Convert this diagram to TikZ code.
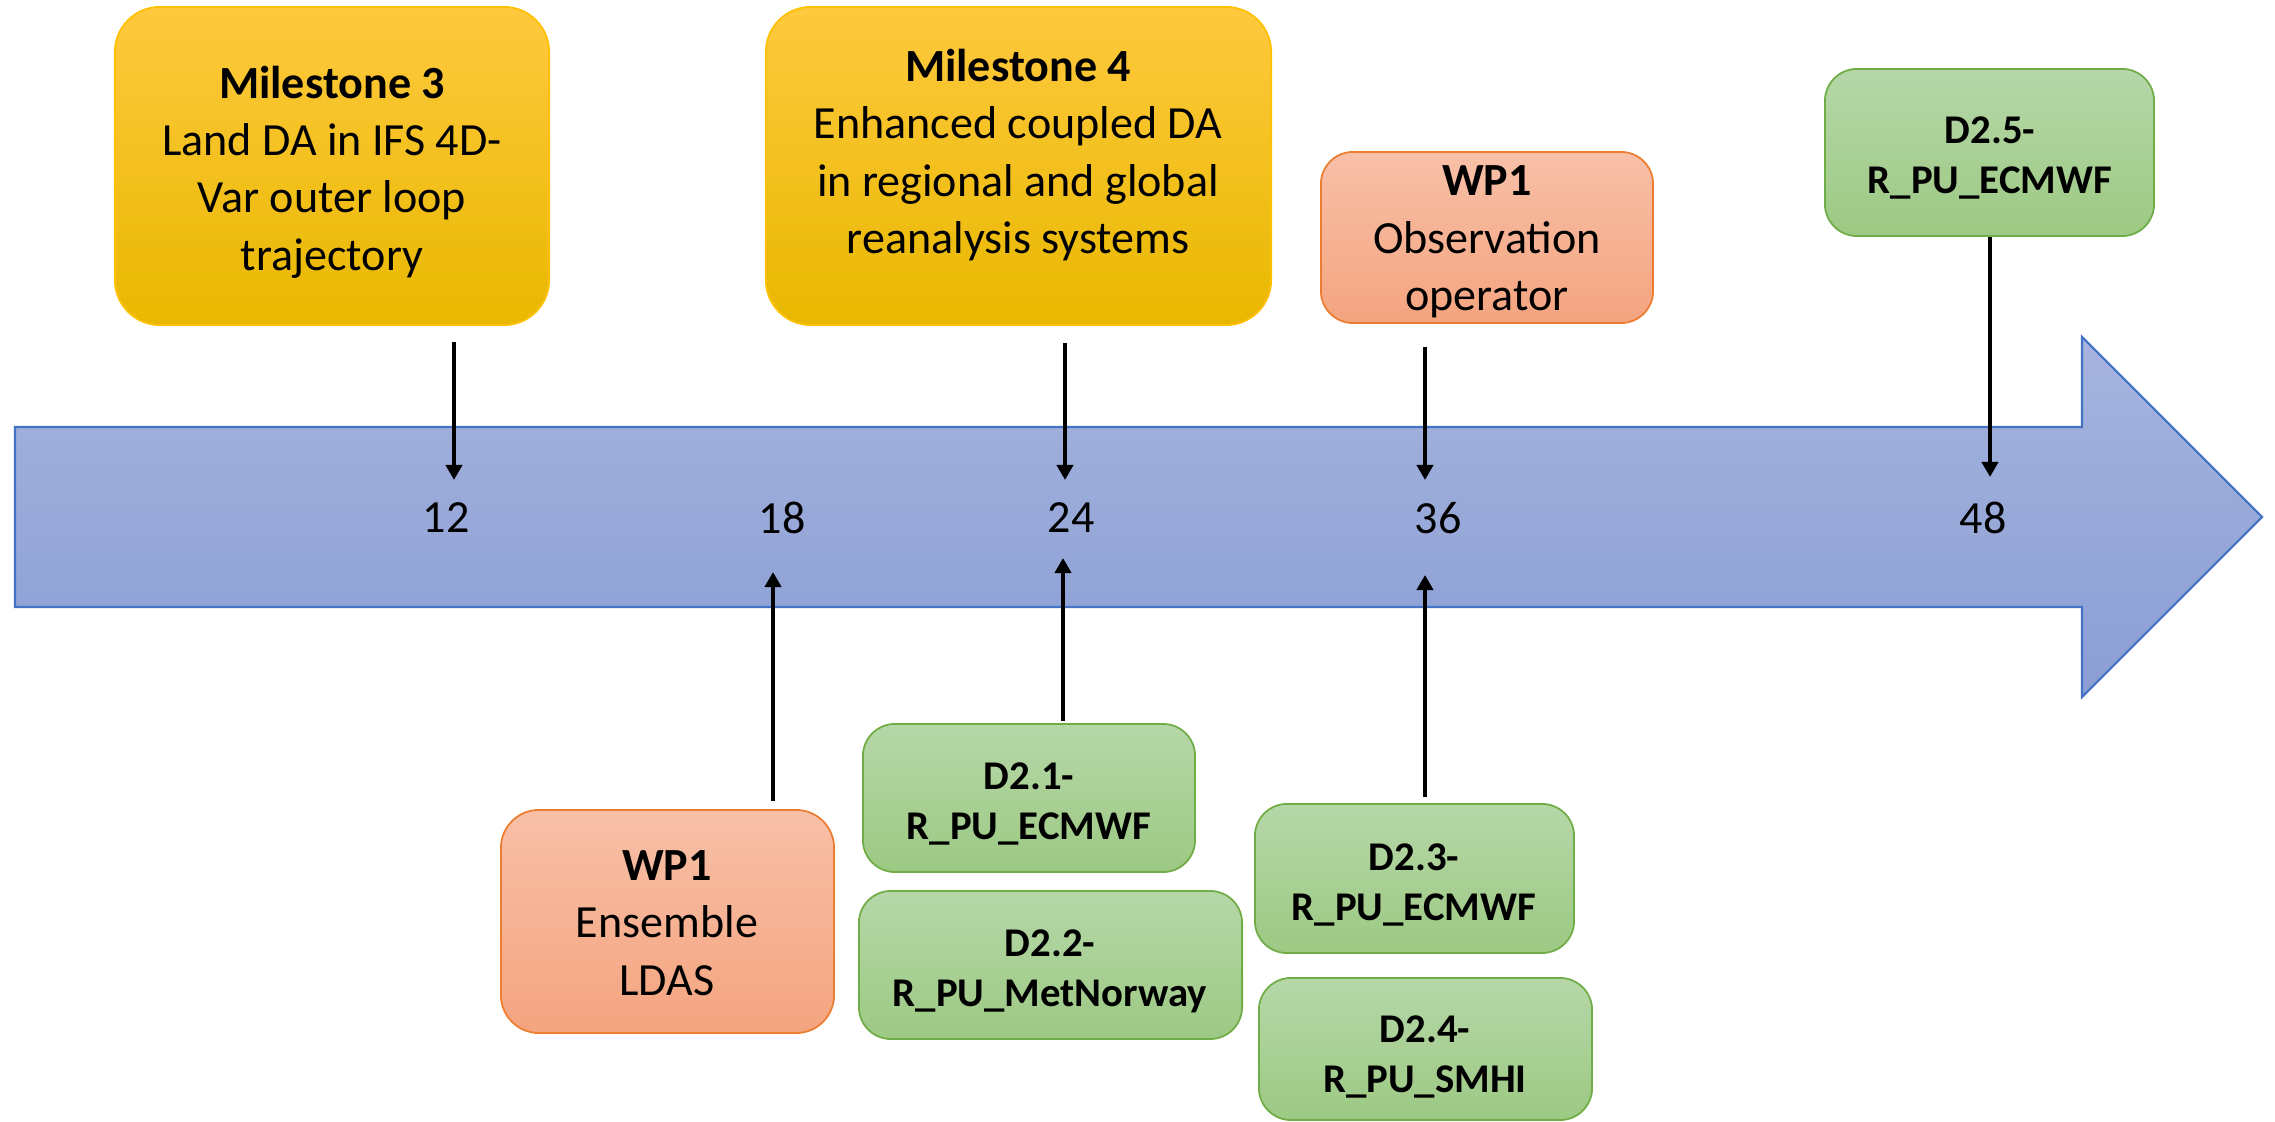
\documentclass[tikz,border=0pt]{standalone}
\usepackage{fontspec}
\setmainfont{Carlito}
\usetikzlibrary{arrows.meta}
\definecolor{msTop}{HTML}{FFC93E}
\definecolor{msMid}{HTML}{FFC000}
\definecolor{msBot}{HTML}{E8B800}
\definecolor{msEdge}{HTML}{FFC000}
\definecolor{orTop}{HTML}{F8C0A8}
\definecolor{orBot}{HTML}{F4A47F}
\definecolor{orEdge}{HTML}{ED7D31}
\definecolor{grTop}{HTML}{B6D7A8}
\definecolor{grBot}{HTML}{9CC983}
\definecolor{grEdge}{HTML}{70AD47}
\definecolor{arTop}{HTML}{A6B4DE}
\definecolor{arBot}{HTML}{8A9ED4}
\definecolor{arEdge}{HTML}{4472C4}
\tikzset{
  boxbase/.style={draw, line width=0.5pt, inner sep=0pt, rounded corners=0.32cm},
  msbox/.style={boxbase, rounded corners=0.45cm, draw=msEdge, top color=msTop, middle color=msMid, bottom color=msBot},
  orbox/.style={boxbase, draw=orEdge, top color=orTop, bottom color=orBot},
  grbox/.style={boxbase, draw=grEdge, top color=grTop, bottom color=grBot},
  bigtext/.style={inner sep=0pt, align=center, font=\fontsize{13.1}{16.3}\selectfont},
  grtext/.style={inner sep=0pt, align=center, font=\fontsize{11.6}{14.3}\selectfont\bfseries},
  numtext/.style={inner sep=0pt, font=\fontsize{13.1}{16.3}\selectfont},
  conn/.style={line width=1.1pt, -{Triangle[length=4.3pt,width=4.6pt]}},
  timeline/.style={draw=arEdge, line width=0.6pt, top color=arTop, bottom color=arBot}
}
\begin{document}
\begin{tikzpicture}[x=0.01cm, y=-0.01cm]
\useasboundingbox (0,0) rectangle (2275,1122);
% timeline arrow
\path[timeline] (15,427) -- (2082,427) -- (2082,337) -- (2262,517) -- (2082,697) -- (2082,607) -- (15,607) -- cycle;
% numbers
\node[numtext] (n12) at (446,518) {12};
\node[numtext] (n18) at (782,518) {18};
\node[numtext] (n24) at (1071,518) {24};
\node[numtext] (n36) at (1438,518) {36};
\node[numtext] (n48) at (1983,518) {48};
% top boxes
\node[msbox, minimum width=4.34cm, minimum height=3.18cm] (m3) at (332,166) {};
\node[bigtext] (m3t) at (332,172) {\textbf{Milestone 3}\\Land DA in IFS 4D-\\Var outer loop\\trajectory};
\node[msbox, minimum width=5.05cm, minimum height=3.18cm] (m4) at (1018.5,166) {};
\node[bigtext] (m4t) at (1018,155) {\textbf{Milestone 4}\\Enhanced coupled DA\\in regional and global\\reanalysis systems};
\node[orbox, minimum width=3.32cm, minimum height=1.71cm] (wpo) at (1487,237.5) {};
\node[bigtext] (wpot) at (1487,242) {\textbf{WP1}\\Observation\\operator};
\node[grbox, minimum width=3.29cm, minimum height=1.67cm] (d25) at (1989.5,152.5) {};
\node[grtext] (d25t) at (1990,158) {D2.5-\\R\_PU\_ECMWF};
% bottom boxes
\node[orbox, rounded corners=0.38cm, minimum width=3.33cm, minimum height=2.23cm] (wpe) at (667.5,921.5) {};
\node[bigtext] (wpet) at (667,923) {\textbf{WP1}\\Ensemble\\LDAS};
\node[grbox, minimum width=3.32cm, minimum height=1.48cm] (d21) at (1029,798) {};
\node[grtext] (d21t) at (1029,804) {D2.1-\\R\_PU\_ECMWF};
\node[grbox, minimum width=3.83cm, minimum height=1.48cm] (d22) at (1050.5,965) {};
\node[grtext] (d22t) at (1050,971) {D2.2-\\R\_PU\_MetNorway};
\node[grbox, minimum width=3.19cm, minimum height=1.49cm] (d23) at (1414.5,878.5) {};
\node[grtext] (d23t) at (1414,885) {D2.3-\\R\_PU\_ECMWF};
\node[grbox, minimum width=3.33cm, minimum height=1.42cm] (d24) at (1425.5,1049) {};
\node[grtext] (d24t) at (1425,1057) {D2.4-\\R\_PU\_SMHI};
% connector end points
\coordinate (s12) at (454,342);
\coordinate (t12) at (454,480);
\coordinate (s24) at (1065,343);
\coordinate (t24) at (1065,480);
\coordinate (s36) at (1425,347);
\coordinate (t36) at (1425,480);
\coordinate (t48) at (1990,477);
\coordinate (s18) at (773,801);
\coordinate (t18) at (773,572);
\coordinate (s24b) at (1063,721);
\coordinate (t24b) at (1063,558);
\coordinate (s36b) at (1425,797);
\coordinate (t36b) at (1425,575);
% connectors
\draw[conn] (s12) -- (t12);
\draw[conn] (s24) -- (t24);
\draw[conn] (s36) -- (t36);
\draw[conn] (d25.south -| t48) -- (t48);
\draw[conn] (s18) -- (t18);
\draw[conn] (s24b) -- (t24b);
\draw[conn] (s36b) -- (t36b);
\end{tikzpicture}
\end{document}
